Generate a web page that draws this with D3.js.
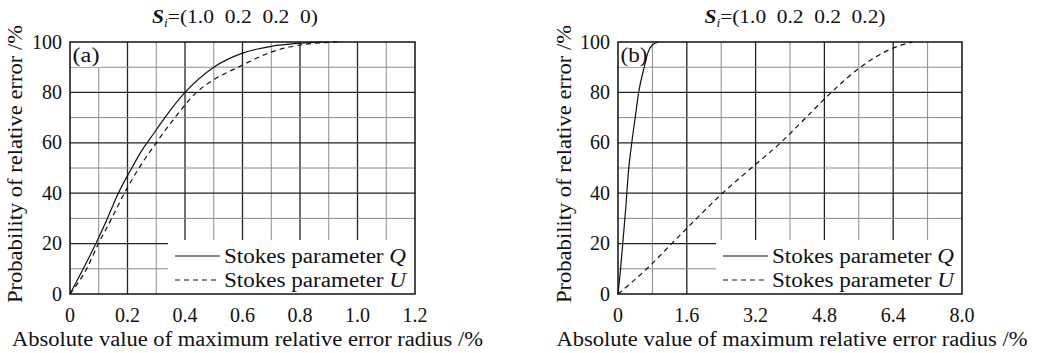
<!DOCTYPE html>
<html>
<head>
<meta charset="utf-8">
<script src="https://cdn.jsdelivr.net/npm/d3@7"></script>
<style>
  html, body { margin: 0; padding: 0; background: #fff; }
  svg text { font-family: "Liberation Serif", "Times New Roman", serif; fill: #111; }
</style>
</head>
<body>
<svg id="chart" width="1043" height="353"></svg>
<script>
// ── data ──
const xTicksA = [0, 0.2, 0.4, 0.6, 0.8, 1.0, 1.2];
const xTicksB = [0, 1.6, 3.2, 4.8, 6.4, 8.0];
const yTicks = [0, 20, 40, 60, 80, 100];

// panel (a): S_i = (1.0 0.2 0.2 0)
const qA = [[0,0],[0.046,10],[0.09,20],[0.13,30],[0.168,40],[0.21,49],[0.25,57],[0.29,63.5],[0.33,70],
  [0.4,80],[0.5,90],[0.6,95.6],[0.7,98.3],[0.8,99.5],[0.88,100]];
const uA = [[0,0],[0.058,10],[0.099,20],[0.145,30],[0.189,40],[0.232,48.5],[0.3,60],[0.365,70],
  [0.44,80],[0.5,85],[0.585,90],[0.7,96],[0.8,98.8],[0.93,100]];
// panel (b): S_i = (1.0 0.2 0.2 0.2)
const qB = [[0,0],[0.06,10],[0.12,22],[0.18,34],[0.24,48],[0.32,60],[0.4,70],[0.48,80],[0.61,90],
  [0.7,96],[0.8,98.8],[0.94,100]];
const uB = [[0,0],[0.67,10],[1.25,20],[1.83,30],[2.43,40],[3.1,50],[3.78,60],[4.37,70],[4.96,80],
  [5.64,90],[6.4,97.6],[6.85,100]];

const panels = [
  { id: 'a', left: 70, right: 415, xMax: 1.2, xStep: 0.1, xTicks: xTicksA,
    title: '=(1.0  0.2  0.2  0)', titleX: 235, titleW: 166,
    q: qA, u: uA, legendX: 168, yLabelX: 22, xLabelX: 247.5 },
  { id: 'b', left: 618, right: 962, xMax: 8.0, xStep: 0.8, xTicks: xTicksB,
    title: '=(1.0  0.2  0.2  0.2)', titleX: 795, titleW: 181,
    q: qB, u: uB, legendX: 716, yLabelX: 571, xLabelX: 792 }
];

const plotTop = 42, plotBottom = 294;
const fmt = d => d === 0 ? '0' : d.toFixed(1);
const svg = d3.select('#chart');

// the reference face is wider than Times, stretch the word labels to its widths
const stretch = (sel, w) => sel.attr('textLength', w).attr('lengthAdjust', 'spacingAndGlyphs');

panels.forEach(p => {
  const x = d3.scaleLinear().domain([0, p.xMax]).range([p.left, p.right]);
  const y = d3.scaleLinear().domain([0, 100]).range([plotBottom, plotTop]);
  const g = svg.append('g');

  // grid: every other line is a major one
  const nX = Math.round(p.xMax / p.xStep);
  const xLines = d3.range(1, nX).map(i => i * p.xStep);
  const yLines = d3.range(10, 100, 10);

  g.selectAll('.vx').data(xLines).join('line')
    .attr('x1', d => x(d)).attr('x2', d => x(d))
    .attr('y1', plotTop).attr('y2', plotBottom)
    .attr('stroke', (d, i) => i % 2 ? '#222' : '#8a8a8a')
    .attr('stroke-width', (d, i) => i % 2 ? 1.3 : 1);

  g.selectAll('.hy').data(yLines).join('line')
    .attr('x1', p.left).attr('x2', p.right)
    .attr('y1', d => y(d)).attr('y2', d => y(d))
    .attr('stroke', d => d % 20 === 0 ? '#222' : '#8a8a8a')
    .attr('stroke-width', d => d % 20 === 0 ? 1.3 : 1);

  // white boxes behind panel letter and legend
  g.append('rect').attr('x', p.left + 1).attr('y', plotTop + 1)
    .attr('width', 30).attr('height', 24).attr('fill', '#fff');
  g.append('rect').attr('x', p.legendX).attr('y', 240)
    .attr('width', p.right - p.legendX).attr('height', plotBottom - 240).attr('fill', '#fff');

  // frame
  g.append('rect').attr('x', p.left).attr('y', plotTop)
    .attr('width', p.right - p.left).attr('height', plotBottom - plotTop)
    .attr('fill', 'none').attr('stroke', '#111').attr('stroke-width', 1.5);

  // curves
  const line = d3.line().x(d => x(d[0])).y(d => y(d[1])).curve(d3.curveMonotoneX);
  g.append('path').datum(p.q).attr('d', line)
    .attr('fill', 'none').attr('stroke', '#111').attr('stroke-width', 1.2);
  g.append('path').datum(p.u).attr('d', line)
    .attr('fill', 'none').attr('stroke', '#111').attr('stroke-width', 1.2)
    .attr('stroke-dasharray', '5,4');

  // tick labels
  g.selectAll('.xt').data(p.xTicks).join('text')
    .attr('x', d => x(d)).attr('y', 322)
    .attr('text-anchor', 'middle').attr('font-size', 20)
    .text(fmt);
  g.selectAll('.yt').data(yTicks).join('text')
    .attr('x', p.left - 8).attr('y', d => y(d) + 6.5)
    .attr('text-anchor', 'end').attr('font-size', 20)
    .text(d => d);

  // axis titles
  stretch(g.append('text').attr('x', p.xLabelX).attr('y', 346)
    .attr('text-anchor', 'middle').attr('font-size', 20)
    .text('Absolute value of maximum relative error radius /%'), 471);
  stretch(g.append('text').attr('transform', `translate(${p.yLabelX},164) rotate(-90)`)
    .attr('text-anchor', 'middle').attr('font-size', 20)
    .text('Probability of relative error /%'), 278);

  // panel letter
  stretch(g.append('text').attr('x', p.left + 2.5).attr('y', plotTop + 20)
    .attr('font-size', 20).text(`(${p.id})`), 27);

  // title
  const t = g.append('text').attr('x', p.titleX).attr('y', 23)
    .attr('text-anchor', 'middle').attr('font-size', 19).style('white-space', 'pre');
  t.append('tspan').attr('font-weight', 'bold').attr('font-style', 'italic').text('S');
  t.append('tspan').attr('font-style', 'italic').attr('font-size', 12).attr('dy', 4).text('i');
  t.append('tspan').attr('dy', -4).text(p.title);
  stretch(t, p.titleW);

  // legend
  const lx = p.legendX + 7;
  [['', 256, 'Q'], ['5,4', 280, 'U']].forEach(([dash, ly, sym]) => {
    g.append('line').attr('x1', lx).attr('x2', lx + 45).attr('y1', ly).attr('y2', ly)
      .attr('stroke', '#111').attr('stroke-width', 1.2).attr('stroke-dasharray', dash || null);
    const lt = g.append('text').attr('x', lx + 49).attr('y', ly + 7).attr('font-size', 20);
    lt.append('tspan').text('Stokes parameter ');
    lt.append('tspan').attr('font-style', 'italic').text(sym);
    stretch(lt, 182);
  });
});
</script>
</body>
</html>
